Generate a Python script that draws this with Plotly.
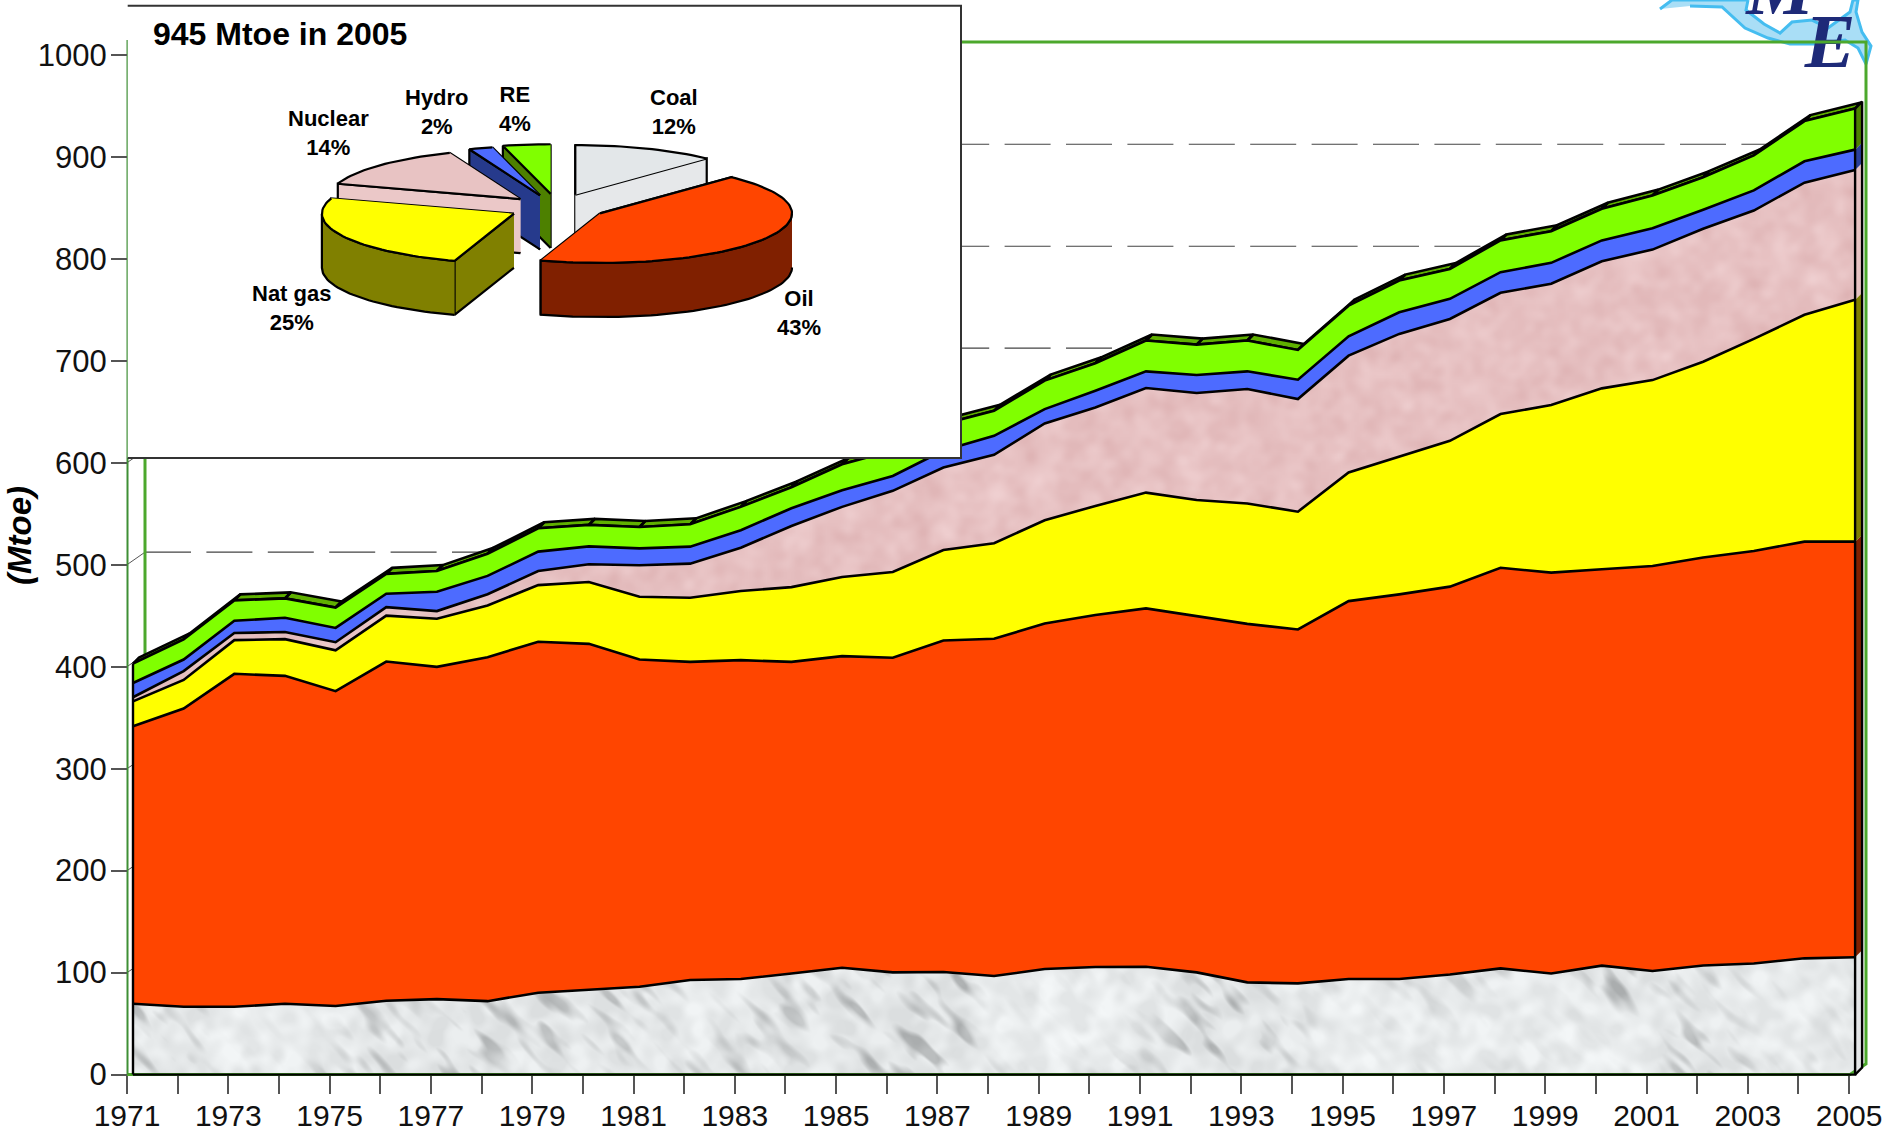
import base64, math, struct, zlib
import numpy as np
import plotly.graph_objects as go

# ---------- data (top edge of each stacked band, Mtoe) ----------
years = list(range(1971, 2006))
coal_top = [69.4,66.5,66.5,69.4,67.2,72.4,74,72,80.3,82.9,86.1,92.7,93.7,99.2,104.8,100.2,100.6,96.7,103.5,105.5,105.8,100.2,90.4,89.4,93.7,93.7,98.2,104.1,99.2,106.8,101.6,106.9,109,114,115]
oil_top = [341.5,359,393,391,376,405,399.8,409.3,424.4,422.4,407,404.7,406.4,404.7,410.3,408.7,425.7,427.3,442.4,450.6,457.2,449.6,442,436.5,464.3,470.9,478.5,497,492.2,495.5,498.7,507,513.5,522.6,522.6]
gas_top = [366,387,426,427,416,450,447,460,480,483,468.6,467.6,474.2,478,488,492.8,514.4,521,543.6,557.6,570.7,563.5,560,552,590.4,605.8,621.5,647.7,656.6,672.9,681,699,721.4,745,759.7]
nuclear_top = [370,395.6,433,434,424,458.4,454.5,471,493.8,500.4,499.4,501,516.7,538,556.7,572.4,595.3,607.8,638.5,654.2,673.3,668.4,672.3,662.4,705,726.3,741,766.6,775.5,797.6,809,829.4,847.3,874.6,887]
hydro_top = [384,407,445,448,438,471.5,473.5,489,512.8,518,516,517.7,533.8,555.4,573,587,612,626.4,652.6,670.6,689.6,686,689.6,681.4,724,747.5,760.7,786.8,796,818,830,848,867,895.6,907]
re_top = [403,426.7,465,467,458,491,493.8,510.8,535.7,539,537,539.6,556.7,576,598.5,612,638,650.9,680.5,697.5,719.8,715.8,719.8,710.6,754,778.6,790,818,827,849,862,880,901.3,935,947.3]

pie_labels = ["Coal", "Oil", "Nat gas", "Nuclear", "Hydro", "RE"]
pie_shares = [12, 43, 25, 14, 2, 4]
y_ticks = list(range(0, 1001, 100))
x_tick_labels = [str(y) if (y - 1971) % 2 == 0 else "" for y in years]

# ---------- layout geometry ----------
W, H = 1896, 1137
PLOT_H = 1135                    # plotted height the page actually gives the axes
PX_PER_YEAR = 50.65
PX_PER_MTOE = 1.018
X0, Y0 = 127.0, 1072.7           # pixel of 1971 tick / 0 tick
x_range = [1971 - X0 / PX_PER_YEAR, 1971 + (W - X0) / PX_PER_YEAR]
y_range = [(Y0 - PLOT_H) / PX_PER_MTOE, Y0 / PX_PER_MTOE]
def to_x(px): return 1971 + (px - X0) / PX_PER_YEAR
def to_y(py): return (Y0 - py) / PX_PER_MTOE
DEPTH_X = 7 / PX_PER_YEAR
DEPTH_Y = 7 / PX_PER_MTOE
SLIVER_X = 6 / PX_PER_YEAR
SLIVER_Y = 6 / PX_PER_MTOE
front_x = [y + 6 / PX_PER_YEAR for y in years]
xL, xR = front_x[0], front_x[-1]

COLORS = dict(oil="#FF4500", gas="#FFFF00", nuc="#E8C3C3", hydro="#4D6BFF", re="#80FF00")
BLACK = "#000000"
GREEN = "#4CA82C"
FONT = "Liberation Sans"

# ---------- textures (deterministic sine fields, not data) ----------
def png_uri(rgb):
    h, w, _ = rgb.shape
    raw = b"".join(b"\x00" + rgb[i].tobytes() for i in range(h))
    def chunk(t, d):
        return struct.pack(">I", len(d)) + t + d + struct.pack(">I", zlib.crc32(t + d) & 0xffffffff)
    data = b"\x89PNG\r\n\x1a\n" + chunk(b"IHDR", struct.pack(">IIBBBBB", w, h, 8, 2, 0, 0, 0)) \
        + chunk(b"IDAT", zlib.compress(raw, 9)) + chunk(b"IEND", b"")
    return "data:image/png;base64," + base64.b64encode(data).decode()

def field(xx, yy, base, count, phase=0.0):
    f = np.zeros_like(xx, dtype=float)
    for k in range(1, count + 1):
        th = k * 2.39996 + phase
        fr = base * (1 + (k % 7) * 0.45)
        f += np.sin(xx * fr * math.cos(th) + yy * fr * math.sin(th) + k * k * 0.73 + phase) / (1 + (k % 7) * 0.4)
    return f / math.sqrt(count) * 1.6

yy, xx = np.mgrid[0:124, 0:1724].astype(float)
u = (xx + yy) * 0.7071
w_ = (xx - yy) * 0.7071
streaks = field(u * 0.3, w_, 0.18, 36, 0.9)           # elongated along the diagonal
patches = field(xx, yy, 0.018, 24, 0.3)
blotch = field(xx, yy, 0.11, 30, 1.7)
dark = np.clip(streaks - 0.15, 0, 1.2) * np.clip(0.6 + 0.7 * patches, 0.15, 1.2)
g = 232 - 34 * dark - 8 * np.clip(blotch, -1, 1) - 4 * np.clip(patches, -1, 1)
marble = np.clip(np.stack([g - 1, g + 2, g + 3], axis=-1), 0, 255).astype(np.uint8)
coal_uri = png_uri(marble)

yy, xx = np.mgrid[0:186, 0:575].astype(float) * 3
m1 = field(xx, yy, 0.04, 30, 0.4)
m2 = field(xx, yy, 0.13, 30, 2.1)
v_ = 0.3 * m1 + 0.55 * m2
r = 231 + 6 * v_; g2 = 193 + 10 * v_; b = 194 + 10 * v_
pink = np.clip(np.stack([r, g2, b], axis=-1), 0, 255).astype(np.uint8)
nuc_uri = png_uri(pink)

fig = go.Figure()
def poly(px_pts, fill, line=None, width=0):
    """Closed polygon given in page pixels (chrome and pie geometry)."""
    fig.add_trace(go.Scatter(x=[to_x(p[0]) for p in px_pts], y=[to_y(p[1]) for p in px_pts],
                             mode="lines", fill="toself", fillcolor=fill,
                             line=dict(color=line or fill, width=width), hoverinfo="skip", showlegend=False))
def path(px_pts, color, width, dash=None):
    fig.add_trace(go.Scatter(x=[to_x(p[0]) for p in px_pts], y=[to_y(p[1]) for p in px_pts],
                             mode="lines", line=dict(color=color, width=width, dash=dash, simplify=False),
                             hoverinfo="skip", showlegend=False))
def top_crossing_px(v):
    """Pixel x at which the top of the stack first reaches value v (or None)."""
    for i in range(len(re_top)):
        if re_top[i] >= v:
            if i == 0:
                return 133.0
            f = (v - re_top[i - 1]) / (re_top[i] - re_top[i - 1])
            return X0 + (front_x[i - 1] + f - 1971) * PX_PER_YEAR
    return None

# white mask above the stack: hides the nuclear texture image outside its band
fig.add_trace(go.Scatter(x=[xL - 0.02] + front_x + [xR + 0.02, xR + 0.02, xL - 0.02],
                         y=[re_top[0]] + re_top + [re_top[-1], 900, 900],
                         mode="lines", fill="toself", fillcolor="#FFFFFF",
                         line=dict(color="#FFFFFF", width=0), hoverinfo="skip", showlegend=False))

# logo
poly([(1660,9),(1672,0),(1858,0),(1856,12),(1862,32),(1871,46),(1866,64),(1858,48),(1845,40),(1815,44),
      (1790,44),(1768,38),(1745,28),(1733,17),(1722,7),(1690,6)], "#A9DEF6", "#45BDF0", 3)
poly([(1748,0),(1746,10),(1764,24),(1780,33),(1792,22),(1812,20),(1828,28),(1850,12),(1853,0)], "#FFFFFF", "#45BDF0", 3)
fig.add_trace(go.Scatter(x=[to_x(1780), to_x(1830)], y=[to_y(-5), to_y(48)], mode="text", text=["M", "E"],
                         textposition="middle center",
                         textfont=dict(family="Liberation Serif", size=76, color="#1E2A78", weight="bold", style="italic"),
                         hoverinfo="skip", showlegend=False))

# back-wall gridlines with their connectors to the axis; stop where the stack hides them
for v in y_ticks[1:]:
    py = Y0 - v * PX_PER_MTOE
    back_py = py - 12.5
    end = top_crossing_px(to_y(back_py))
    if end is None:
        end = 1866
    if end <= 133:
        path([(X0, py), (133, py - 4)], "#555555", 1)
        continue
    path([(X0, py), (145, back_py)], "#555555", 1)
    if end > 145:
        path([(145, back_py), (end, back_py)], "#444444", 1.2, "46px,15.4px")

# chart box
path([(145, 42), (1866, 42), (1866, 1062), (1850, Y0), (X0, Y0)], GREEN, 3)
path([(145, 42), (145, Y0 - float(np.interp(to_x(145), front_x, re_top)) * PX_PER_MTOE)], GREEN, 3)
path([(X0 + 0.5, Y0), (X0 + 0.5, 40)], "#3F8F35", 2)

# top sliver (third dimension of the stack)
sx, sy = [], []
for i in range(len(years) - 1):
    sx += [front_x[i], front_x[i] + SLIVER_X, front_x[i + 1] + SLIVER_X, front_x[i + 1], front_x[i], None]
    sy += [re_top[i], re_top[i] + SLIVER_Y, re_top[i + 1] + SLIVER_Y, re_top[i + 1], re_top[i], None]
fig.add_trace(go.Scatter(x=sx, y=sy, mode="lines", fill="toself", fillcolor="#5FB000",
                         line=dict(color=BLACK, width=2.6), hoverinfo="skip", showlegend=False))

# side face at 2005
bands = [(0, coal_top, "#E4E6E8"), (coal_top, oil_top, "#802000"), (oil_top, gas_top, "#808000"),
         (gas_top, nuclear_top, "#E8C3C3"), (nuclear_top, hydro_top, "#2A3F9A"), (hydro_top, re_top, "#4D8000")]
for lo, hi, col in bands:
    l = 0 if lo == 0 else lo[-1]
    u_ = hi[-1]
    fig.add_trace(go.Scatter(x=[xR, xR + DEPTH_X, xR + DEPTH_X, xR, xR], y=[l, l + DEPTH_Y, u_ + DEPTH_Y, u_, l],
                             mode="lines", fill="toself", fillcolor=col, line=dict(color=col, width=0),
                             hoverinfo="skip", showlegend=False))

# stacked bands: fills, then outlines
transparent = "rgba(0,0,0,0)"
fill_specs = [(coal_top, "tozeroy", transparent), (oil_top, "tonexty", COLORS["oil"]), (gas_top, "tonexty", COLORS["gas"]),
              (nuclear_top, "tonexty", transparent), (hydro_top, "tonexty", COLORS["hydro"]), (re_top, "tonexty", COLORS["re"])]
names = ["Coal", "Oil", "Nat gas", "Nuclear", "Hydro", "RE"]
for (vals, mode, col), name in zip(fill_specs, names):
    fig.add_trace(go.Scatter(x=front_x, y=vals, name=name, mode="lines", fill=mode, fillcolor=col,
                             line=dict(width=0, color=col), showlegend=False))
for vals in [coal_top, oil_top, gas_top, nuclear_top, hydro_top, re_top]:
    fig.add_trace(go.Scatter(x=front_x, y=vals, mode="lines", line=dict(color=BLACK, width=2.6),
                             hoverinfo="skip", showlegend=False))
fig.add_trace(go.Scatter(x=[xL, xL, None, xL, xR, xR, None, xR, xR + DEPTH_X, xR + DEPTH_X, xR],
                         y=[0, re_top[0], None, 0, 0, re_top[-1], None, 0, DEPTH_Y, re_top[-1] + DEPTH_Y, re_top[-1]],
                         mode="lines", line=dict(color=BLACK, width=2.4), hoverinfo="skip", showlegend=False))

# ---------- inset ----------
poly([(127.7, 5.7), (961, 5.7), (961, 457.3), (127.7, 457.3)], "#FFFFFF", "#333333", 2)

RX, RY, DEPTH = 192.0, 49.5, 54.0
pie_centres = {"Coal": (575.3, 194.3), "Oil": (600, 213), "Nat gas": (513.9, 213.3),
               "Nuclear": (520.4, 198.7), "Hydro": (540, 195), "RE": (550.6, 193.5)}
pie_top = {"Coal": "#E3E7E9", "Oil": "#FF4500", "Nat gas": "#FFFF00", "Nuclear": "#E8C3C3", "Hydro": "#4D6BFF", "RE": "#80FF00"}
pie_side = {"Coal": "#E6E8EA", "Oil": "#802000", "Nat gas": "#808000", "Nuclear": "#EBC8C8", "Hydro": "#263A8C", "RE": "#4D8000"}

spans = {}
cum = 0
for lab, s in zip(pie_labels, pie_shares):
    spans[lab] = (90 - 3.6 * cum, 90 - 3.6 * (cum + s))
    cum += s
def arc_pts(c, a, b, dz=0.0):
    n = max(2, int(abs(a - b) / 2) + 1)
    out = []
    for i in range(n + 1):
        t = math.radians(a + (b - a) * i / n)
        out.append((c[0] + RX * math.cos(t), c[1] - RY * math.sin(t) + dz))
    return out

for lab in ["Coal", "RE", "Hydro", "Nuclear", "Nat gas", "Oil"]:
    a, b = spans[lab]
    c = pie_centres[lab]
    st, en = arc_pts(c, a, a)[0], arc_pts(c, b, b)[0]
    for e in sorted((st, en), key=lambda p: p[1]):   # farther radial face first
        poly([c, e, (e[0], e[1] + DEPTH), (c[0], c[1] + DEPTH)], pie_side[lab], BLACK, 2.2)
    for w0, w1 in [(0, -180), (-360, -540)]:
        s0, s1 = min(a, w0), max(b, w1)
        if s0 > s1:
            top = arc_pts(c, s0, s1)
            poly(top + [(p[0], p[1] + DEPTH) for p in reversed(top)], pie_side[lab], BLACK, 2.2)
    poly([c] + arc_pts(c, a, b), pie_top[lab], BLACK, 2.2)

# ---------- text ----------
ann = []
def txt(px, py, s, size, bold=True, italic=False, xanchor="center", angle=0, color="#000000"):
    body = s
    if bold:
        body = f"<b>{body}</b>"
    if italic:
        body = f"<i>{body}</i>"
    ann.append(dict(x=px / W, y=1 - py / PLOT_H, xref="paper", yref="paper", text=body, showarrow=False,
                    xanchor=xanchor, yanchor="middle", textangle=angle, align="center",
                    font=dict(family=FONT, size=size, color=color)))
txt(151, 34, "945 Mtoe in 2005", 32, xanchor="left")
txt(20, 535, "(Mtoe)", 33, italic=True, angle=-90)
label_pos = {"Coal": (674, 112), "Oil": (798.5, 312.5), "Nat gas": (291.7, 307), "Nuclear": (328, 133),
             "Hydro": (436.5, 112), "RE": (515, 109)}
for lab, s in zip(pie_labels, pie_shares):
    px, py = label_pos[lab]
    txt(px, py, f"{lab}<br>{s}%", 22)

fig.add_layout_image(source=coal_uri, xref="x", yref="y", x=xL, y=122, sizex=xR - xL, sizey=122,
                     sizing="stretch", xanchor="left", yanchor="top", layer="below")
fig.add_layout_image(source=nuc_uri, xref="x", yref="y", x=xL, y=897, sizex=xR - xL, sizey=540,
                     sizing="stretch", xanchor="left", yanchor="top", layer="below")

fig.update_layout(
    width=W, height=H, margin=dict(l=0, r=0, t=0, b=0), autosize=False,
    paper_bgcolor="#FFFFFF", plot_bgcolor="#FFFFFF", showlegend=False, annotations=ann,
    font=dict(family=FONT, color="#111111"),
    xaxis=dict(range=x_range, domain=[0, 1], anchor="free", position=1 - Y0 / PLOT_H, showgrid=False, zeroline=False,
               showline=False, tickmode="array", tickvals=years, ticktext=x_tick_labels, ticks="outside",
               ticklen=18, tickwidth=1.5, tickcolor="#555555", tickangle=0, tickfont=dict(size=30, family=FONT, color="#111111"),
               ticklabelstandoff=-4),
    yaxis=dict(range=y_range, domain=[0, 1], anchor="free", position=X0 / W, showgrid=False, zeroline=False,
               showline=False, tickmode="array", tickvals=y_ticks, ticktext=[str(t) for t in y_ticks], ticks="outside",
               ticklen=16, tickwidth=1.5, tickcolor="#555555", tickfont=dict(size=31, family=FONT, color="#111111"),
               ticklabelstandoff=-2),
)
fig.write_html("out.html", config=dict(displayModeBar=False),
               post_script="document.body.style.margin='0';document.body.style.overflow='hidden';")
